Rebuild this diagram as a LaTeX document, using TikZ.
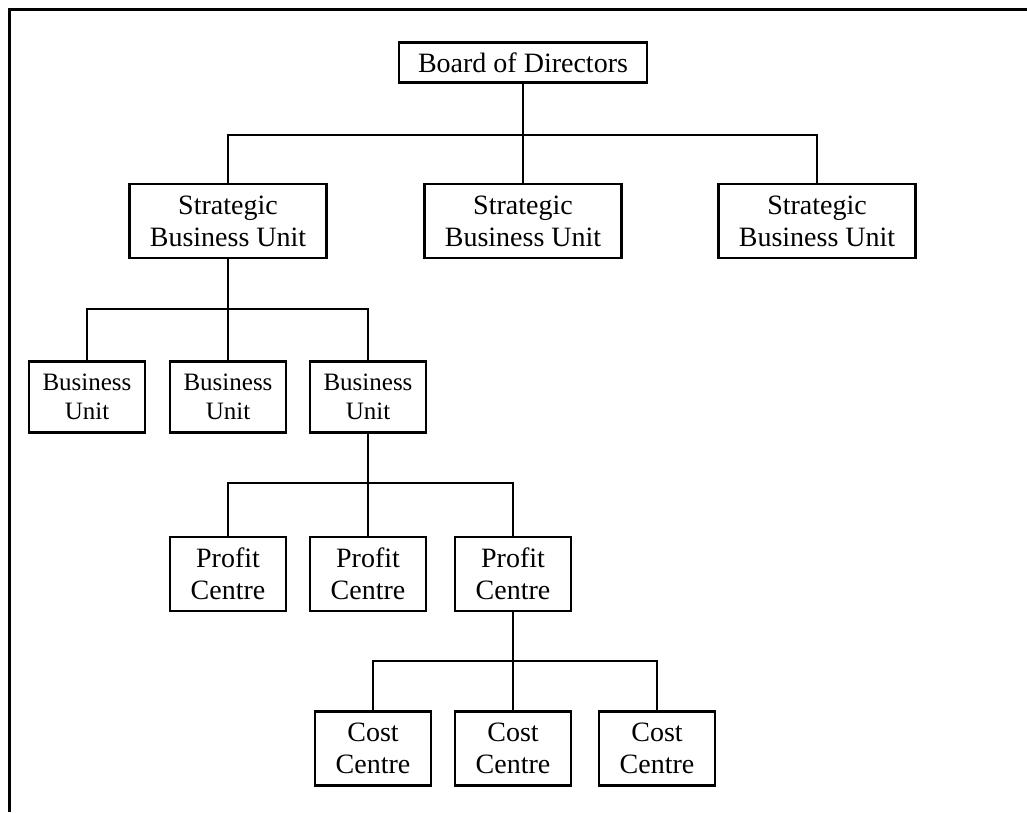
\documentclass[tikz,border=0pt]{standalone}
\usepackage{fontspec}
\setmainfont{Liberation Serif}
\begin{document}
\begin{tikzpicture}[x=1pt, y=-1pt,
  unitbox/.style={draw, line width=2.7pt, inner sep=0pt, align=center,
    font=\fontsize{28}{32}\selectfont},
  topbox/.style={unitbox, minimum width=248pt, minimum height=40pt},
  sbubox/.style={unitbox, minimum width=197pt, minimum height=74pt},
  bubox/.style={unitbox, minimum width=116pt, minimum height=71pt,
    font=\fontsize{25}{29}\selectfont},
  centrebox/.style={unitbox, minimum width=116pt, minimum height=74pt},
  link/.style={line width=1.3pt},
  frame/.style={line width=3pt}]
\useasboundingbox (0,0) rectangle (1027,812);

% page frame (top and left edges)
\draw[frame] (9,812) -- (9,9.5) -- (1027,9.5);

% boxes
\node[topbox] (board) at (523,62.5) {Board of Directors};

\node[sbubox] (sbu1) at (228,221) {Strategic\\Business Unit};
\node[sbubox] (sbu2) at (523,221) {Strategic\\Business Unit};
\node[sbubox] (sbu3) at (817,221) {Strategic\\Business Unit};

\node[bubox] (bu1) at (87,397) {Business\\Unit};
\node[bubox] (bu2) at (228,397) {Business\\Unit};
\node[bubox] (bu3) at (368,397) {Business\\Unit};

\node[centrebox] (pc1) at (228,574) {Profit\\Centre};
\node[centrebox] (pc2) at (368,574) {Profit\\Centre};
\node[centrebox] (pc3) at (513,574) {Profit\\Centre};

\node[centrebox] (cc1) at (373,748.5) {Cost\\Centre};
\node[centrebox] (cc2) at (513,748.5) {Cost\\Centre};
\node[centrebox] (cc3) at (657,748.5) {Cost\\Centre};

% bus heights
\coordinate (busA) at (0,135);
\coordinate (busB) at (0,309);
\coordinate (busC) at (0,483);
\coordinate (busD) at (0,661);

% connectors
\draw[link] (board.south) -- (sbu2.north);
\draw[link] (sbu1.north) -- (sbu1.north |- busA) -- (sbu3.north |- busA) -- (sbu3.north);

\draw[link] (sbu1.south) -- (bu2.north);
\draw[link] (bu1.north) -- (bu1.north |- busB) -- (bu3.north |- busB) -- (bu3.north);

\draw[link] (bu3.south) -- (pc2.north);
\draw[link] (pc1.north) -- (pc1.north |- busC) -- (pc3.north |- busC) -- (pc3.north);

\draw[link] (pc3.south) -- (cc2.north);
\draw[link] (cc1.north) -- (cc1.north |- busD) -- (cc3.north |- busD) -- (cc3.north);
\end{tikzpicture}
\end{document}
